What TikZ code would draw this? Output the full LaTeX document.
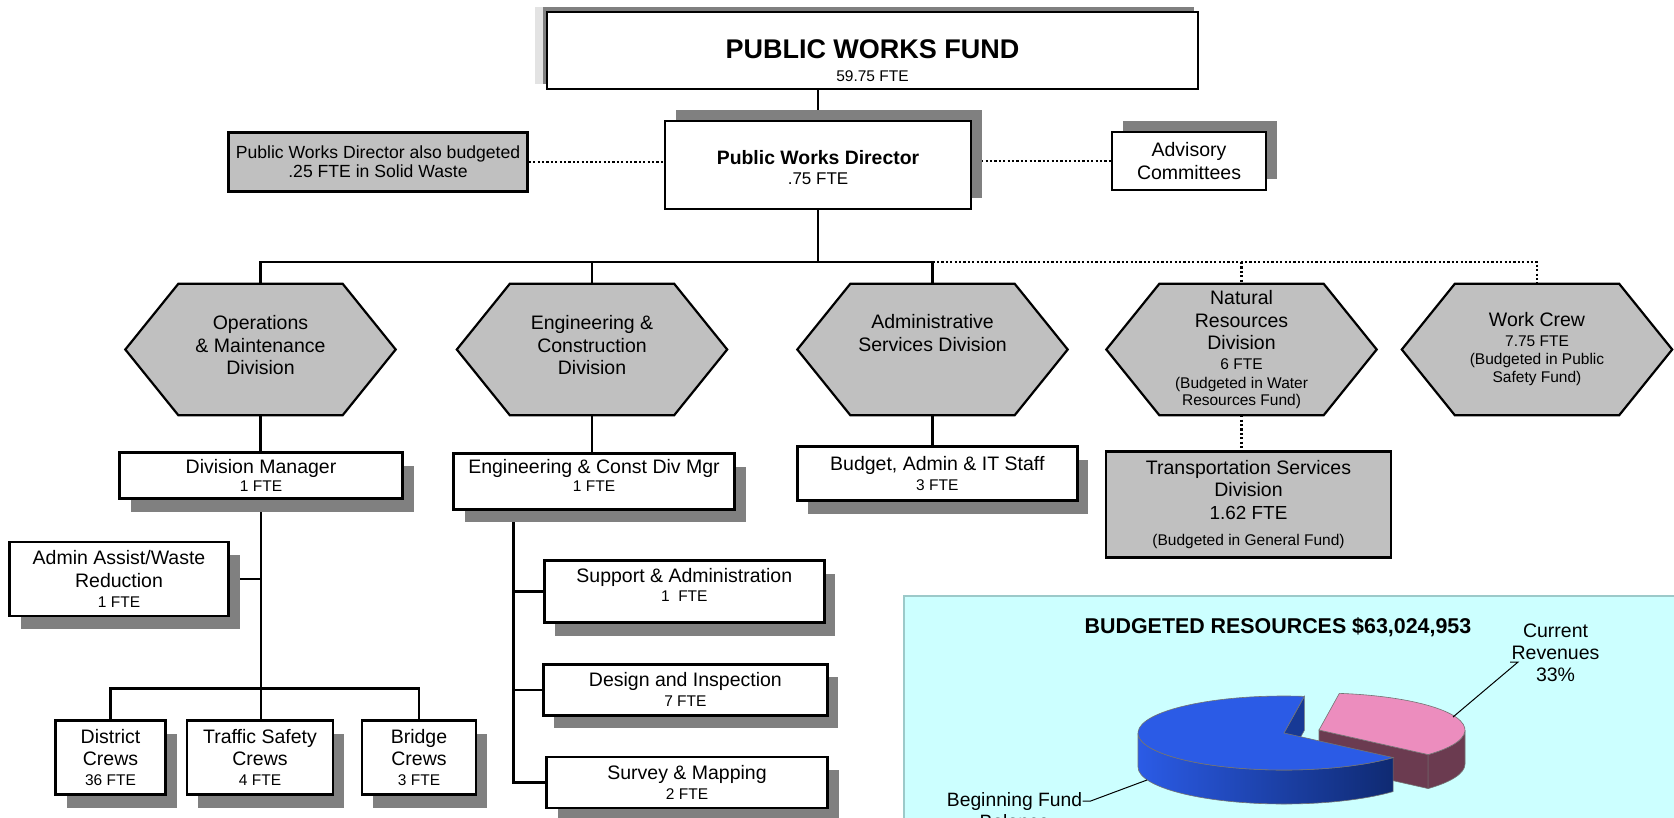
\documentclass[tikz,border=0pt]{standalone}
\usepackage{fontspec}
\setmainfont{Liberation Sans}
\usetikzlibrary{positioning,shadows,backgrounds}
\definecolor{boxgray}{HTML}{C0C0C0}
\definecolor{shadegray}{HTML}{808080}
\definecolor{lightshade}{HTML}{E3E3E3}
\definecolor{panelcyan}{HTML}{CCFFFF}
\definecolor{panelline}{HTML}{9CC9C9}
\definecolor{pieblue}{HTML}{2B5BE6}
\definecolor{piebluedark}{HTML}{0F2A72}
\definecolor{piepink}{HTML}{EC8DBE}
\definecolor{piemaroon}{HTML}{6B3B50}
\newcommand\bigtxt{\fontsize{19.5}{22.4}\selectfont}
\newcommand\ftetxt{\fontsize{15.5}{18}\selectfont}
\newcommand\midtxt{\fontsize{17.6}{19.2}\selectfont}
\tikzset{
  orgbox/.style={draw, line width=2.6pt, fill=white, align=center, inner sep=0pt},
  graybox/.style={orgbox, fill=boxgray},
  shadedr/.style={general shadow={shadow xshift=11pt, shadow yshift=-13pt, fill=shadegray}},
  shadeur/.style={general shadow={shadow xshift=11pt, shadow yshift=11.5pt, fill=shadegray}},
  fundshade/.style={general shadow={shadow xshift=-12pt, shadow yshift=5pt, fill=lightshade},
                    general shadow={shadow xshift=-4pt, shadow yshift=5pt, fill=shadegray}},
  crewbox/.style={orgbox, shadedr, minimum height=74pt, font=\bigtxt},
  unitbox/.style={orgbox, shadedr, font=\ftetxt},
  hexdiv/.style={align=center, inner sep=0pt, minimum width=270pt, minimum height=131pt, font=\bigtxt},
  hexline/.style={draw=black, line width=2.2pt, fill=boxgray},
  conn/.style={line width=2.4pt},
  dotconn/.style={line width=2.2pt, dash pattern=on 2.2pt off 2.2pt},
  pieedge/.style={draw=black!55, line width=0.6pt},
}
\begin{document}
\begin{tikzpicture}[x=1pt, y=-1pt]
    \useasboundingbox (0,0) rectangle (1674,817);
    % Resources panel
    \fill[panelcyan] (904,596) rectangle (1680,822);
    \draw[panelline, line width=1.2pt] (1680,596) -- (904,596) -- (904,822);
    \node[font=\fontsize{21.4}{24}\bfseries\selectfont] (pietitle) at (1278,627) {BUDGETED RESOURCES \$63,024,953};
    \node[align=center, font=\fontsize{19.5}{21.8}\selectfont] (revlbl) at (1555.5,653) {Current\\Revenues\\33\%};
    \node[align=center, anchor=north, font=\fontsize{19.3}{22}\selectfont] (ballbl) at (1014.5,789) {Beginning Fund\\Balance};
    % Pie
    \def\piecx{1284}\def\piecy{733}\def\pierx{146}\def\piery{37}\def\pieh{34}
    \begin{scope}[shift={(35,-3)}]
        \fill[piemaroon, pieedge] (\piecx,\piecy) -- ++(41.6:{\pierx} and {\piery}) -- ++(0,\pieh) -- ++(221.6:{\pierx} and {\piery}) -- cycle;
        \fill[piemaroon, pieedge] (\piecx,\piecy) ++(41.6:{\pierx} and {\piery}) arc[start angle=41.6, end angle=0, x radius=\pierx, y radius=\piery]
            -- ++(0,\pieh) arc[start angle=0, end angle=41.6, x radius=\pierx, y radius=\piery] -- cycle;
        \fill[piepink, pieedge] (\piecx,\piecy) -- ++(41.6:{\pierx} and {\piery}) arc[start angle=41.6, end angle=-82, x radius=\pierx, y radius=\piery] -- cycle;
    \end{scope}
    \fill[piebluedark!70!pieblue, pieedge] (\piecx,\piecy) -- ++(-82:{\pierx} and {\piery}) -- ++(0,\pieh) -- ++(98:{\pierx} and {\piery}) -- cycle;
    \shade[left color=pieblue, right color=piebluedark] (\piecx,\piecy) ++(180:{\pierx} and {\piery}) arc[start angle=180, end angle=41.6, x radius=\pierx, y radius=\piery]
        -- ++(0,\pieh) arc[start angle=41.6, end angle=180, x radius=\pierx, y radius=\piery] -- cycle;
    \draw[pieedge] (\piecx,\piecy) ++(180:{\pierx} and {\piery}) arc[start angle=180, end angle=41.6, x radius=\pierx, y radius=\piery]
        -- ++(0,\pieh) arc[start angle=41.6, end angle=180, x radius=\pierx, y radius=\piery] -- cycle;
    \fill[pieblue, pieedge] (\piecx,\piecy) -- ++(-82:{\pierx} and {\piery}) arc[start angle=-82, end angle=-318.4, x radius=\pierx, y radius=\piery] -- cycle;
    \coordinate (revtip) at (1453,717);
    \coordinate (baltip) at (1147,780);
    \draw[line width=1pt] (revtip) -- ([shift={(10,9)}]revlbl.west) -- ([shift={(2,9)}]revlbl.west);
    \draw[line width=1pt] (baltip) -- ([shift={(5,12)}]ballbl.north east) -- ([shift={(-3,12)}]ballbl.north east);
    % Top of the chart
    \node[orgbox, fundshade, minimum width=651pt, minimum height=77pt, font=\ftetxt, text height=62pt] (fund) at (872.5,50.5)
        {{\fontsize{27}{30}\bfseries\selectfont PUBLIC WORKS FUND}\\[4.5pt]59.75 FTE};
    \node[orgbox, shadeur, minimum width=306pt, minimum height=88pt, font=\fontsize{17}{20}\selectfont, text height=39pt] (dir) at (818,165)
        {{\fontsize{19.4}{22}\bfseries\selectfont Public Works Director}\\.75 FTE};
    \node[graybox, minimum width=299pt, minimum height=59pt, font=\midtxt] (dirnote) at (378,161.7)
        {Public Works Director also budgeted\\.25 FTE in Solid Waste};
    \node[orgbox, shadeur, minimum width=154pt, minimum height=58pt, font=\bigtxt] (adv) at (1189,161) {Advisory\\Committees};
    % Divisions
    \node[hexdiv, text depth=8.5pt] (ops) at (260.5,349.5) {Operations\\\& Maintenance\\Division};
    \node[hexdiv, text depth=8.5pt] (eng) at (592,349.5) {Engineering \&\\Construction\\Division};
    \node[hexdiv, text depth=10.5pt] (adm) at (932.5,349.5) {Administrative\\Services Division\\\mbox{}};
    \node[hexdiv] (nat) at (1241.5,349.5) {Natural\\Resources\\Division\\[-2pt]{\ftetxt 6 FTE}\\[-4pt]{\ftetxt (Budgeted in Water}\\[-5.4pt]{\ftetxt Resources Fund)}};
    \node[hexdiv, font=\ftetxt] (wrk) at (1537,349.5) {{\bigtxt Work Crew}\\[2pt]7.75 FTE\\(Budgeted in Public\\Safety Fund)};
    % Units
    \node[unitbox, minimum width=283pt, minimum height=46pt] (dm) at (261,475.6) {{\bigtxt Division Manager}\\1 FTE};
    \node[unitbox, minimum width=281pt, minimum height=55.5pt, text depth=13pt] (engmgr) at (594,481.5) {{\bigtxt Engineering \& Const Div Mgr}\\1 FTE};
    \node[unitbox, minimum width=280pt, minimum height=54pt] (bud) at (937.3,473.5) {{\bigtxt Budget, Admin \& IT Staff}\\[2pt]3 FTE};
    \node[graybox, minimum width=285pt, minimum height=106pt, font=\bigtxt] (trans) at (1248.5,504.5)
        {Transportation Services\\Division\\{\fontsize{18.9}{22}\selectfont 1.62 FTE}\\[4pt]{\ftetxt (Budgeted in General Fund)}};
    \node[orgbox, shadedr, minimum width=219pt, minimum height=74pt, font=\bigtxt] (aa) at (119,579)
        {Admin Assist/Waste\\Reduction\\[-2pt]{\ftetxt 1 FTE}};
    \node[crewbox, minimum width=110pt] (dist) at (110.5,757.5) {District\\Crews\\[-2.4pt]{\ftetxt 36 FTE}};
    \node[crewbox, minimum width=146pt] (traffic) at (260,757.5) {Traffic Safety\\Crews\\[-2.4pt]{\ftetxt 4 FTE}};
    \node[crewbox, minimum width=114pt] (bridge) at (419,757.5) {Bridge\\Crews\\[-2.4pt]{\ftetxt 3 FTE}};
    \node[unitbox, minimum width=280pt, minimum height=62pt, text depth=13pt] (sup) at (684.3,591.5) {{\bigtxt Support \& Administration}\\[1pt]1\ \ FTE};
    \node[unitbox, minimum width=284pt, minimum height=51pt] (des) at (685.4,689.7) {{\bigtxt Design and Inspection}\\[2pt]7 FTE};
    \node[unitbox, minimum width=281pt, minimum height=51pt] (sur) at (687,782.6) {{\bigtxt Survey \& Mapping}\\[2pt]2 FTE};
    % Connectors and division shapes
    \begin{pgfonlayer}{background}
        \coordinate (bus) at (818,262);
        \coordinate (crewbus) at (261,688.6);
        \coordinate (engtrunk) at ([xshift=-80.5pt]engmgr.south);
        \draw[conn] (fund.south -| dir.north) -- (dir.north);
        \draw[dotconn] (dirnote.east) -- (dirnote.east -| dir.west);
        \draw[dotconn] (dir.east |- adv.west) -- (adv.west);
        \draw[conn] (dir.south) -- (bus);
        \draw[conn] (ops.north) -- (ops.north |- bus) -- (adm.north |- bus) -- (adm.north);
        \draw[conn] (eng.north) -- (eng.north |- bus);
        \draw[dotconn] (adm.north |- bus) -- (wrk.north |- bus) -- (wrk.north);
        \draw[dotconn] (nat.north |- bus) -- (nat.north);
        \draw[conn] (ops.south) -- (ops.south |- dm.north);
        \draw[conn] (eng.south) -- (eng.south |- engmgr.north);
        \draw[conn] (adm.south) -- (adm.south |- bud.north);
        \draw[dotconn] (nat.south) -- (nat.south |- trans.north);
        \draw[conn] (dm.south) -- (dm.south |- traffic.north);
        \draw[conn] (aa.east) -- (aa.east -| dm.south);
        \draw[conn] (dist.north) |- (crewbus) -| (bridge.north);
        \draw[conn] (engtrunk) |- (sur.west);
        \draw[conn] (engtrunk |- sup.west) -- (sup.west);
        \draw[conn] (engtrunk |- des.west) -- (des.west);
        \foreach \h in {ops,eng,adm,nat,wrk}
            \draw[hexline] (\h.west) -- ([xshift=53pt]\h.north west) -- ([xshift=-53pt]\h.north east)
                -- (\h.east) -- ([xshift=-53pt]\h.south east) -- ([xshift=53pt]\h.south west) -- cycle;
    \end{pgfonlayer}
\end{tikzpicture}
\end{document}
